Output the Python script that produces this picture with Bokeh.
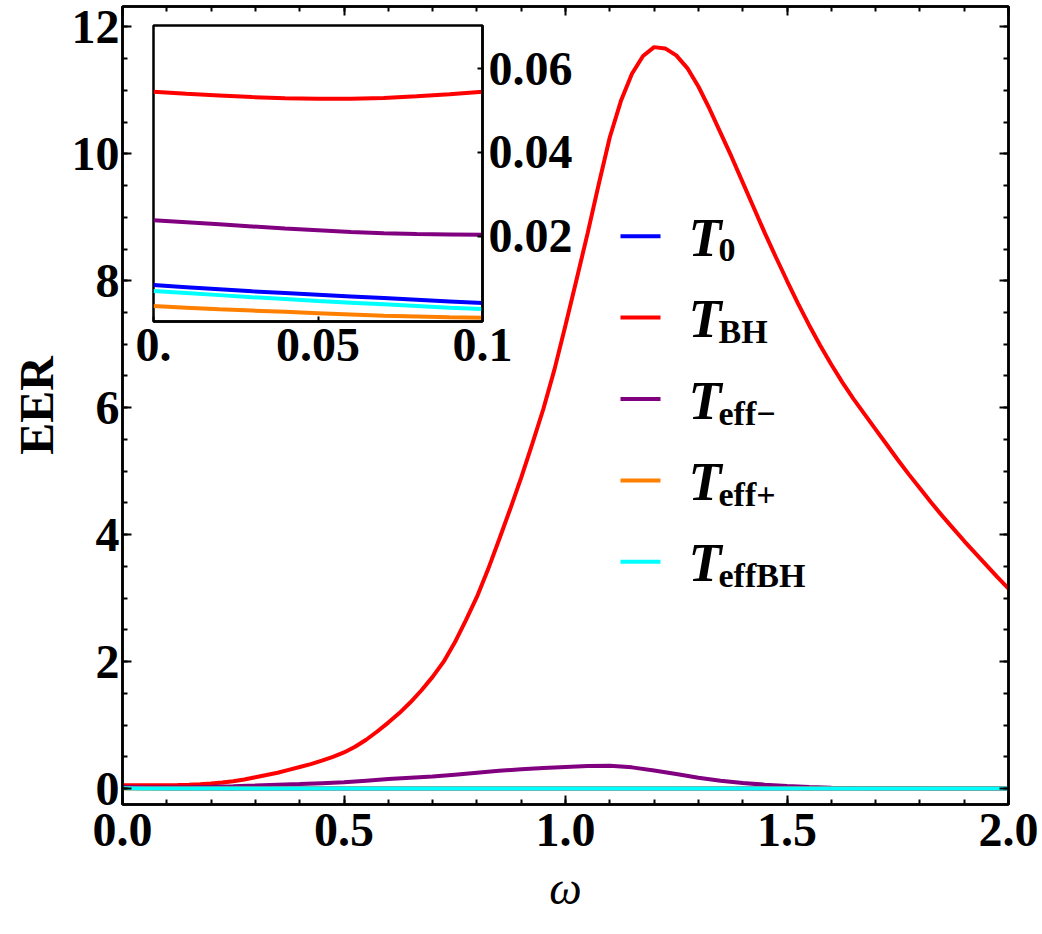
from bokeh.plotting import figure
from bokeh.models import (Range1d, LinearAxis, FixedTicker, Label, BoxAnnotation,
                          PrintfTickFormatter)
from bokeh.embed import file_html
from bokeh.resources import INLINE

# ---------------- data: energy emission rate vs. omega ----------------
omega_bh = [0.000, 0.025, 0.050, 0.075, 0.100, 0.125, 0.150, 0.175, 0.200, 0.225,
            0.250, 0.275, 0.300, 0.325, 0.350, 0.375, 0.400, 0.425, 0.450, 0.475,
            0.500, 0.525, 0.550, 0.575, 0.600, 0.625, 0.650, 0.675, 0.700, 0.725,
            0.750, 0.775, 0.800, 0.825, 0.850, 0.875, 0.900, 0.925, 0.950, 0.975,
            1.000, 1.025, 1.050, 1.075, 1.100, 1.125, 1.150, 1.175, 1.200, 1.225,
            1.250, 1.275, 1.300, 1.325, 1.350, 1.375, 1.400, 1.425, 1.450, 1.475,
            1.500, 1.525, 1.550, 1.575, 1.600, 1.625, 1.650, 1.675, 1.700, 1.725,
            1.750, 1.775, 1.800, 1.825, 1.850, 1.875, 1.900, 1.925, 1.950, 1.975,
            2.000]
eer_BH = [0.055, 0.054, 0.053, 0.053, 0.055, 0.058, 0.062, 0.070, 0.080, 0.095,
          0.115, 0.145, 0.180, 0.215, 0.250, 0.295, 0.340, 0.385, 0.440, 0.500,
          0.570, 0.660, 0.770, 0.900, 1.040, 1.190, 1.360, 1.550, 1.760, 2.000,
          2.300, 2.650, 3.020, 3.450, 3.920, 4.400, 4.900, 5.430, 5.980, 6.600,
          7.300, 8.020, 8.750, 9.520, 10.26, 10.83, 11.26, 11.54, 11.68, 11.66,
          11.55, 11.35, 11.06, 10.71, 10.33, 9.950, 9.550, 9.150, 8.750, 8.370,
          8.000, 7.640, 7.300, 6.980, 6.680, 6.400, 6.140, 5.900, 5.660, 5.420,
          5.180, 4.950, 4.730, 4.510, 4.300, 4.100, 3.900, 3.710, 3.520, 3.330,
          3.150]

omega = [0.00, 0.05, 0.10, 0.15, 0.20, 0.25, 0.30, 0.35, 0.40, 0.45,
         0.50, 0.55, 0.60, 0.65, 0.70, 0.75, 0.80, 0.85, 0.90, 0.95,
         1.00, 1.05, 1.10, 1.15, 1.20, 1.25, 1.30, 1.35, 1.40, 1.45,
         1.50, 1.55, 1.60, 1.65, 1.70, 1.75, 1.80, 1.85, 1.90, 1.95,
         2.00]
eer_eff_minus = [0.024, 0.021, 0.020, 0.022, 0.028, 0.037, 0.048, 0.060, 0.072, 0.086,
                 0.100, 0.125, 0.150, 0.170, 0.190, 0.220, 0.250, 0.280, 0.305, 0.325,
                 0.340, 0.355, 0.360, 0.335, 0.285, 0.230, 0.170, 0.125, 0.090, 0.062,
                 0.040, 0.024, 0.015, 0.010, 0.007, 0.005, 0.004, 0.003, 0.003, 0.002,
                 0.002]
eer_T0 = [0.0083, 0.0040, 0.0023, 0.0014, 0.0009, 0.0007, 0.0005, 0.0004, 0.0003, 0.0003,
          0.0002, 0.0002, 0.0002, 0.0002, 0.0001, 0.0001, 0.0001, 0.0001, 0.0001, 0.0001,
          0.0001, 0.0001, 0.0001, 0.0001, 0.0001, 0.0001, 0.0001, 0.0001, 0.0001, 0.0001,
          0.0001, 0.0001, 0.0001, 0.0001, 0.0001, 0.0001, 0.0001, 0.0001, 0.0001, 0.0001,
          0.0001]
eer_eff_plus = [0.0033, 0.0005, 0.0002, 0.0001, 0.0001, 0.0001, 0.0001, 0.0001, 0.0001, 0.0001,
                0.0001, 0.0001, 0.0001, 0.0001, 0.0001, 0.0001, 0.0001, 0.0001, 0.0001, 0.0001,
                0.0001, 0.0001, 0.0001, 0.0001, 0.0001, 0.0001, 0.0001, 0.0001, 0.0001, 0.0001,
                0.0001, 0.0001, 0.0001, 0.0001, 0.0001, 0.0001, 0.0001, 0.0001, 0.0001, 0.0001,
                0.0001]
eer_eff_BH = [0.0069, 0.0026, 0.0016, 0.0010, 0.0007, 0.0005, 0.0004, 0.0003, 0.0003, 0.0002,
              0.0002, 0.0002, 0.0002, 0.0001, 0.0001, 0.0001, 0.0001, 0.0001, 0.0001, 0.0001,
              0.0001, 0.0001, 0.0001, 0.0001, 0.0001, 0.0001, 0.0001, 0.0001, 0.0001, 0.0001,
              0.0001, 0.0001, 0.0001, 0.0001, 0.0001, 0.0001, 0.0001, 0.0001, 0.0001, 0.0001,
              0.0001]

# zoom on the low-frequency end
omega_zoom = [0.00, 0.01, 0.02, 0.03, 0.04, 0.05, 0.06, 0.07, 0.08, 0.09, 0.10]
zoom_T0 = [0.0083, 0.0078, 0.0073, 0.0068, 0.0064, 0.0060, 0.0056, 0.0052, 0.0048, 0.0044, 0.0040]
zoom_BH = [0.0545, 0.0540, 0.0536, 0.0532, 0.0529, 0.0528, 0.0528, 0.0530, 0.0534, 0.0539, 0.0545]
zoom_eff_minus = [0.0238, 0.0233, 0.0228, 0.0223, 0.0218, 0.0214, 0.0210, 0.0207, 0.0205, 0.0204, 0.0203]
zoom_eff_plus = [0.0033, 0.0029, 0.0025, 0.0022, 0.0019, 0.0016, 0.0013, 0.0010, 0.0008, 0.0006, 0.0005]
zoom_eff_BH = [0.0069, 0.0064, 0.0059, 0.0054, 0.0050, 0.0045, 0.0041, 0.0037, 0.0033, 0.0029, 0.0026]

series_names = ["0", "BH", "eff\u2212", "eff+", "effBH"]
series_colors = ["#0000ff", "#ff0000", "#800080", "#ff8000", "#00ffff"]
main_x = [omega, omega_bh, omega, omega, omega]
main_series = [eer_T0, eer_BH, eer_eff_minus, eer_eff_plus, eer_eff_BH]
zoom_series = [zoom_T0, zoom_BH, zoom_eff_minus, zoom_eff_plus, zoom_eff_BH]

x_major = [0.0, 0.5, 1.0, 1.5, 2.0]
x_minor = [round(0.1 * i, 1) for i in range(21)]
y_major = [0, 2, 4, 6, 8, 10, 12]
y_minor = [0.5 * i for i in range(-1, 25)]

zoom_xticks = [0.0, 0.05, 0.1]
zoom_xtick_labels = ["0.", "0.05", "0.1"]
zoom_yticks = [0.02, 0.04, 0.06]

FONT = "Liberation Serif"
LW = 4

# ---------------- main panel ----------------
p = figure(width=1042, height=934,
           x_range=Range1d(0, 2.0), y_range=Range1d(-0.25, 12.32),
           output_backend="svg", toolbar_location=None,
           min_border_left=122, min_border_right=34,
           min_border_top=6, min_border_bottom=130,
           x_axis_label="\u03c9", y_axis_label="EER")
p.grid.visible = False
p.outline_line_color = "black"
p.outline_line_width = 2.5
p.background_fill_color = "white"
p.border_fill_color = "white"

for xs, ys, c in zip(main_x, main_series, series_colors):
    p.line(xs, ys, line_color=c, line_width=LW)

xt = FixedTicker(ticks=x_major, minor_ticks=x_minor)
yt = FixedTicker(ticks=y_major, minor_ticks=y_minor)
top_axis = LinearAxis(ticker=xt)
right_axis = LinearAxis(ticker=yt)
p.add_layout(top_axis, "above")
p.add_layout(right_axis, "right")
p.xaxis.ticker = xt
p.yaxis.ticker = yt
p.below[0].formatter = PrintfTickFormatter(format="%.1f")

for ax in p.axis:
    ax.axis_line_width = 2.5
    ax.axis_line_color = "black"
    ax.major_tick_in = 9
    ax.major_tick_out = 0
    ax.minor_tick_in = 5
    ax.minor_tick_out = 0
    ax.major_tick_line_width = 2
    ax.minor_tick_line_width = 2
    ax.major_label_text_font = FONT
    ax.major_label_text_font_style = "bold"
    ax.major_label_text_font_size = "48px"
    ax.major_label_text_color = "black"
    ax.axis_label_text_font = FONT
    ax.axis_label_text_color = "black"

# bare tick marks on the top and right edges
top_axis.major_label_overrides = {t: "" for t in x_major}
right_axis.major_label_overrides = {t: "" for t in y_major}
for ax in (top_axis, right_axis):
    ax.major_label_text_font_size = "1px"
    ax.major_label_standoff = 0

p.below[0].major_label_standoff = 9
p.below[0].axis_label_standoff = 14
p.below[0].axis_label_text_font_style = "italic"
p.below[0].axis_label_text_font_size = "46px"

p.left[0].major_label_standoff = 3
p.left[0].axis_label_standoff = 6
p.left[0].axis_label_text_font_style = "bold"
p.left[0].axis_label_text_font_size = "48px"

# legend drawn as annotations in frame pixels
leg_x0 = 498
leg_len = 40
leg_top = 568.3
leg_step = 81.4
for i, (name, c) in enumerate(zip(series_names, series_colors)):
    yc = leg_top - i * leg_step
    p.add_layout(BoxAnnotation(left=leg_x0, right=leg_x0 + leg_len,
                               bottom=yc - 2, top=yc + 2,
                               left_units="screen", right_units="screen",
                               bottom_units="screen", top_units="screen",
                               fill_color=c, fill_alpha=1.0, line_alpha=0))
    p.add_layout(Label(x=566, y=yc - 1.5, x_units="screen", y_units="screen",
                       text="T", text_font=FONT, text_font_style="bold italic",
                       text_font_size="54px", text_color="black",
                       text_baseline="middle", text_align="left"))
    p.add_layout(Label(x=596, y=yc - 14, x_units="screen", y_units="screen",
                       text=name, text_font=FONT, text_font_style="bold",
                       text_font_size="34px", text_color="black",
                       text_baseline="middle", text_align="left"))

# ---------------- inset panel ----------------
ins = figure(width=449, height=363,
             x_range=Range1d(0, 0.1), y_range=Range1d(-0.0004, 0.0703),
             output_backend="svg", toolbar_location=None,
             min_border_left=20, min_border_right=100,
             min_border_top=5, min_border_bottom=62,
             y_axis_location="right")
ins.grid.visible = False
ins.outline_line_color = "black"
ins.outline_line_width = 2.5
ins.background_fill_color = "white"
ins.border_fill_alpha = 0.0

for ys, c in zip(zoom_series, series_colors):
    ins.line(omega_zoom, ys, line_color=c, line_width=LW)

ins.xaxis.ticker = FixedTicker(ticks=zoom_xticks, minor_ticks=[])
ins.xaxis.major_label_overrides = dict(zip(zoom_xticks, zoom_xtick_labels))
ins.yaxis.ticker = FixedTicker(ticks=zoom_yticks, minor_ticks=[])
for ax in ins.axis:
    ax.axis_line_width = 2.5
    ax.major_tick_in = 5
    ax.major_tick_out = 0
    ax.major_tick_line_width = 2
    ax.major_label_text_font = FONT
    ax.major_label_text_font_style = "bold"
    ax.major_label_text_font_size = "48px"
    ax.major_label_text_color = "black"
ins.xaxis.major_label_standoff = 7
ins.yaxis.major_label_standoff = 6

ins.styles = {"position": "absolute", "left": "133px", "top": "20px"}

open("out.html", "w").write(file_html([p, ins], INLINE))
